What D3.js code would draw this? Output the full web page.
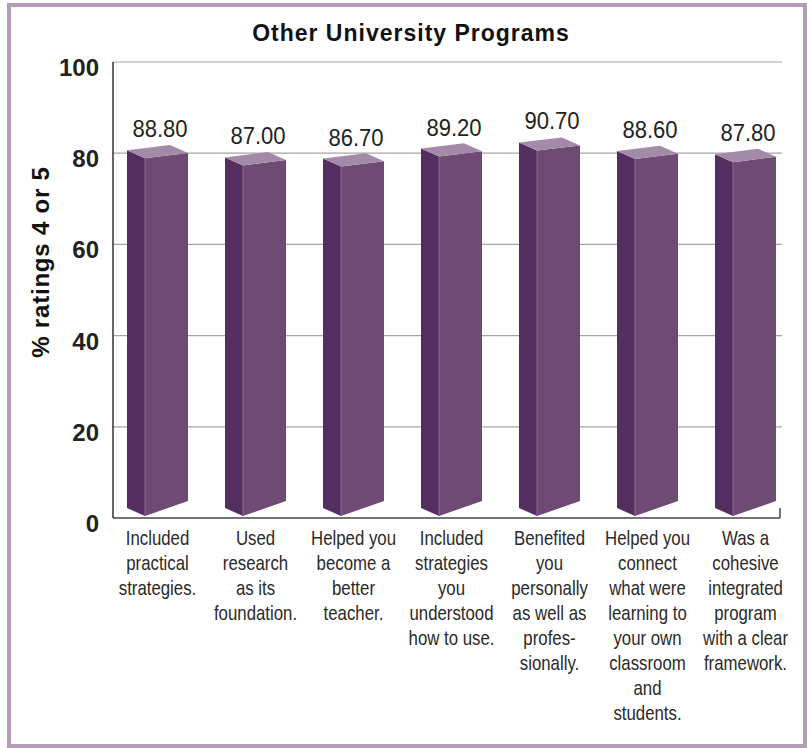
<!DOCTYPE html>
<html>
<head>
<meta charset="utf-8">
<script src="https://cdn.jsdelivr.net/npm/d3@7"></script>
<style>
  body { margin: 0; background: #fff; }
  svg { display: block; }
</style>
</head>
<body>
<div id="chart"></div>
<script>
const categories = [
  ["Included", "practical", "strategies."],
  ["Used", "research", "as its", "foundation."],
  ["Helped you", "become a", "better", "teacher."],
  ["Included", "strategies", "you", "understood", "how to use."],
  ["Benefited", "you", "personally", "as well as", "profes-", "sionally."],
  ["Helped you", "connect", "what were", "learning to", "your own", "classroom", "and", "students."],
  ["Was a", "cohesive", "integrated", "program", "with a clear", "framework."]
];
const values = [88.8, 87.0, 86.7, 89.2, 90.7, 88.6, 87.8];
const yTicks = [0, 20, 40, 60, 80, 100];

const width = 807, height = 748;
const font = "'Liberation Sans', Arial, sans-serif";

const svg = d3.select("#chart").append("svg")
  .attr("width", width)
  .attr("height", height)
  .attr("viewBox", `0 0 ${width} ${height}`);

// outer frame
svg.append("rect")
  .attr("x", 9).attr("y", 5)
  .attr("width", 796).attr("height", 741)
  .attr("fill", "none")
  .attr("stroke", "#b49bb7")
  .attr("stroke-width", 4);

svg.append("text")
  .attr("x", 411).attr("y", 41)
  .attr("text-anchor", "middle")
  .attr("font-family", font)
  .attr("font-weight", "bold")
  .attr("font-size", "23px")
  .attr("letter-spacing", "1px")
  .attr("fill", "#111")
  .text("Other University Programs");

// back wall scale (gridlines)
const y = d3.scaleLinear().domain([0, 100]).range([518, 62]);
// perspective scales for the bar edges
const yFrontL = d3.scaleLinear().domain([0, 100]).range([516, 113]);
const yBackL = d3.scaleLinear().domain([0, 100]).range([508, 105]);
const yFrontR = d3.scaleLinear().domain([0, 100]).range([501, 109]);
const yBackR = d3.scaleLinear().domain([0, 100]).range([493, 101]);

const x = d3.scaleBand().domain(d3.range(values.length)).range([108, 794]);
const side = 18, front = 43;

svg.append("g").selectAll("line")
  .data(yTicks.filter(d => d > 0))
  .join("line")
  .attr("x1", 113).attr("x2", 782)
  .attr("y1", d => y(d)).attr("y2", d => y(d))
  .attr("stroke", "#a5a5a5")
  .attr("stroke-width", 1.2);

// axes
svg.append("line")
  .attr("x1", 113).attr("x2", 113)
  .attr("y1", y(100)).attr("y2", y(0))
  .attr("stroke", "#333").attr("stroke-width", 1.5);
svg.append("line")
  .attr("x1", 113).attr("x2", 780)
  .attr("y1", y(0)).attr("y2", y(0))
  .attr("stroke", "#444").attr("stroke-width", 1.5);
svg.append("line")
  .attr("x1", 780).attr("x2", 780)
  .attr("y1", y(0)).attr("y2", y(0) - 10)
  .attr("stroke", "#444").attr("stroke-width", 1.5);

svg.append("g").selectAll("text")
  .data(yTicks)
  .join("text")
  .attr("x", 99)
  .attr("y", d => y(d) + 14)
  .attr("text-anchor", "end")
  .attr("font-family", font)
  .attr("font-weight", "bold")
  .attr("font-size", "24px")
  .attr("fill", "#222")
  .text(d => d);

svg.append("text")
  .attr("transform", "translate(49,262) rotate(-90)")
  .attr("text-anchor", "middle")
  .attr("font-family", font)
  .attr("font-weight", "bold")
  .attr("font-size", "24px")
  .attr("letter-spacing", "0.8px")
  .attr("fill", "#111")
  .text("% ratings 4 or 5");

// 3D bars
const bars = svg.append("g").selectAll("g")
  .data(values)
  .join("g");

const pts = a => a.map(p => p.join(",")).join(" ");

bars.append("polygon")
  .attr("fill", "#552e61")
  .attr("points", (d, i) => {
    const x0 = x(i) + 19;
    return pts([[x0, yBackL(d)], [x0 + side, yFrontL(d)], [x0 + side, yFrontL(0)], [x0, yBackL(0)]]);
  });

bars.append("polygon")
  .attr("fill", "#6e4a75")
  .attr("points", (d, i) => {
    const x0 = x(i) + 19;
    return pts([[x0 + side, yFrontL(d)], [x0 + side + front, yFrontR(d)], [x0 + side + front, yFrontR(0)], [x0 + side, yFrontL(0)]]);
  });

bars.append("line")
  .attr("x1", (d, i) => x(i) + 19 + side)
  .attr("x2", (d, i) => x(i) + 19 + side)
  .attr("y1", d => yFrontL(d))
  .attr("y2", yFrontL(0))
  .attr("stroke", "#8a6b90")
  .attr("stroke-width", 1);

bars.append("polygon")
  .attr("fill", "#a48aa9")
  .attr("points", (d, i) => {
    const x0 = x(i) + 19;
    return pts([[x0, yBackL(d)], [x0 + front, yBackR(d)], [x0 + side + front, yFrontR(d)], [x0 + side, yFrontL(d)]]);
  });

// value labels, squeezed a little to imitate the condensed face
bars.append("text")
  .attr("transform", (d, i) => `translate(${x(i) + 19 + 33},${yBackL(d) - 13}) scale(0.92,1)`)
  .attr("text-anchor", "middle")
  .attr("font-family", font)
  .attr("font-size", "24px")
  .attr("fill", "#222")
  .text(d => d.toFixed(2));

// category labels
const labels = svg.append("g").selectAll("text")
  .data(categories)
  .join("text")
  .attr("transform", (d, i) => `translate(${x(i) + 19 + 30.5},545) scale(0.82,1)`)
  .attr("text-anchor", "middle")
  .attr("font-family", font)
  .attr("font-size", "20.5px")
  .attr("fill", "#2a2a2a");

labels.selectAll("tspan")
  .data(d => d)
  .join("tspan")
  .attr("x", 0)
  .attr("dy", (d, j) => j === 0 ? 0 : 25)
  .text(d => d);
</script>
</body>
</html>
